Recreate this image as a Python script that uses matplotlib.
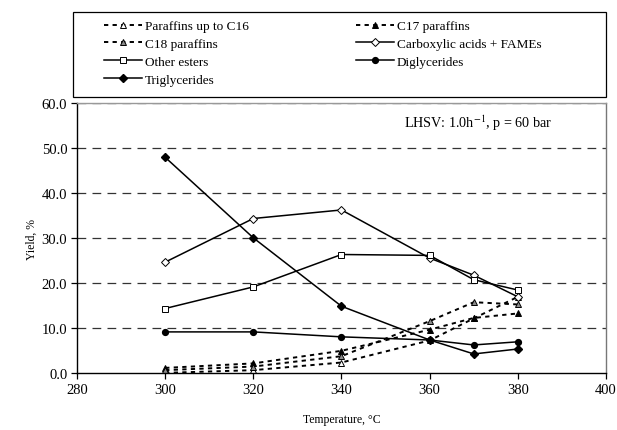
import matplotlib
matplotlib.use('Agg')
from matplotlib import pyplot as plt
from matplotlib.patches import Rectangle
from matplotlib.ticker import FormatStrFormatter

# temperatures, degC
temps = [300, 320, 340, 360, 370, 380]

# yields, %
paraffins_c16 = [0.1, 0.7, 2.4, 7.3, 12.2, 17.0]
paraffins_c17 = [1.2, 2.2, 5.0, 9.7, 12.3, 13.3]
paraffins_c18 = [0.7, 1.5, 3.8, 11.6, 15.8, 15.3]
acids_fames = [24.7, 34.4, 36.3, 25.6, 21.8, 17.0]
other_esters = [14.4, 19.2, 26.4, 26.2, 20.8, 18.5]
diglycerides = [9.2, 9.2, 8.1, 7.4, 6.3, 7.0]
triglycerides = [48.0, 30.1, 14.9, 7.4, 4.3, 5.4]

plt.rcParams['font.family'] = ['Liberation Serif', 'DejaVu Serif']

W, H = 617, 431
fig = plt.figure(figsize=(W / 100, H / 100), dpi=100)
ax = fig.add_axes([77 / W, 1 - 374.3 / H, (606 - 77) / W, (374.3 - 104.3) / H])

dash = (0, (2.2, 2.2))
ms = 4.5
ax.plot(temps, paraffins_c16, linestyle=dash, color='black', lw=1.4, marker='^',
        ms=ms, mfc='white', mec='black', mew=0.7, label='Paraffins up to C16')
ax.plot(temps, paraffins_c17, linestyle=dash, color='black', lw=1.4, marker='^',
        ms=ms, mfc='black', mec='black', mew=0.7, label='C17 paraffins')
ax.plot(temps, paraffins_c18, linestyle=dash, color='black', lw=1.4, marker='^',
        ms=ms, mfc='#8c8c8c', mec='black', mew=0.7, label='C18 paraffins')
ax.plot(temps, acids_fames, '-', color='black', lw=1.1, marker='D', ms=3.8,
        mfc='white', mec='black', mew=0.7, label='Carboxylic acids + FAMEs')
ax.plot(temps, other_esters, '-', color='black', lw=1.1, marker='s', ms=4.2,
        mfc='white', mec='black', mew=0.7, label='Other esters')
ax.plot(temps, diglycerides, '-', color='black', lw=1.1, marker='o', ms=4.2,
        mfc='black', mec='black', label='Diglycerides')
ax.plot(temps, triglycerides, '-', color='black', lw=1.1, marker='D', ms=3.8,
        mfc='black', mec='black', label='Triglycerides')

ax.set_xlim(280, 400)
ax.set_ylim(0, 60)
ax.set_xticks(range(280, 401, 20))
ax.set_yticks(range(0, 61, 10))
ax.yaxis.set_major_formatter(FormatStrFormatter('%.1f'))
ax.tick_params(direction='out', length=4, width=0.9, labelsize=10.5, pad=3, colors='black')
for y in range(10, 61, 10):
    ax.axhline(y, color='#333333', lw=0.9, ls=(0, (7, 5)), zorder=0)

ax.spines['left'].set_color('black')
ax.spines['bottom'].set_color('black')
ax.spines['right'].set_color('#777777')
ax.spines['top'].set_color('#999999')
for s in ax.spines.values():
    s.set_linewidth(1.0)

ax.set_xlabel('Temperature, °C', fontsize=8.5, labelpad=12)
ax.set_ylabel('Yield, %', fontsize=8.5, labelpad=3)
ax.text(354.2, 55.8, 'LHSV: 1.0h$^{-1}$, p = 60 bar', fontsize=10.2, va='center',
        math_fontfamily='stix')

# legend frame, then a frameless legend filled row by row
fig.patches.append(Rectangle((73 / W, 1 - 98 / H), (606 - 73) / W, 85 / H,
                             transform=fig.transFigure, fill=False,
                             edgecolor='black', lw=0.9))
handles, labels = ax.get_legend_handles_labels()
order = [0, 2, 4, 6, 1, 3, 5]
fig.legend([handles[i] for i in order], [labels[i] for i in order],
           loc='upper left', ncol=2, bbox_to_anchor=(104 / W, 1 - 21 / H),
           borderaxespad=0, borderpad=0, fontsize=9.5, handlelength=2.9,
           handletextpad=0.2, labelspacing=0.42, columnspacing=8.1,
           frameon=False, numpoints=1)

fig.savefig('out.png', dpi=100)
